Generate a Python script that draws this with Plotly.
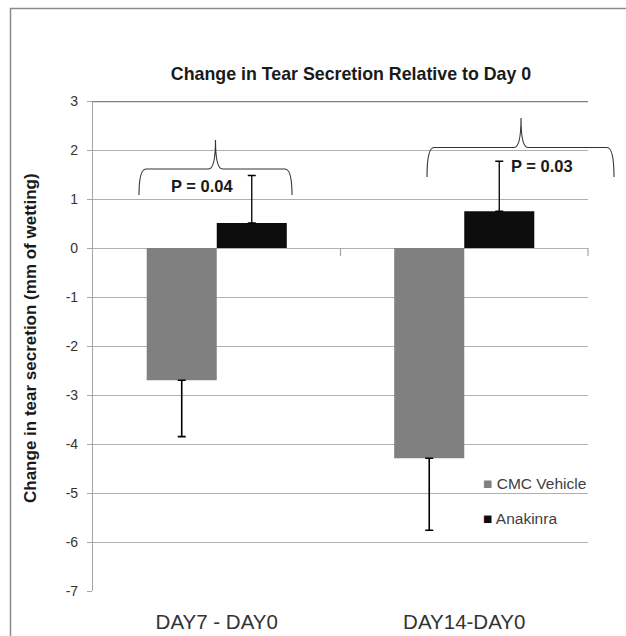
import plotly.graph_objects as go

# ---- data ----
categories = ["DAY7 - DAY0", "DAY14-DAY0"]
cmc_values = [-2.70, -4.29]
cmc_err = [1.15, 1.47]
anakinra_values = [0.51, 0.75]
anakinra_err = [0.97, 1.02]
p_labels = ["P = 0.04", "P = 0.03"]
y_ticks = [3, 2, 1, 0, -1, -2, -3, -4, -5, -6, -7]
y_ticktext = [str(v) for v in y_ticks]

W, H = 626, 636
L, R, T, B = 93, 38, 101, 45
PW, PH = W - L - R, H - T - B

def px_x(px):
    return (px - L) / PW

def px_y(py):
    return (H - B - py) / PH

FONT = "Liberation Sans, Arial, sans-serif"
xpos = list(range(len(categories)))

fig = go.Figure()
fig.add_trace(go.Bar(
    x=xpos, y=cmc_values, name="CMC Vehicle",
    marker=dict(color="#808080", line=dict(width=0)),
    error_y=dict(type="data", symmetric=False, array=[0] * len(cmc_err),
                 arrayminus=cmc_err, color="#000000", thickness=1.6, width=4),
))
fig.add_trace(go.Bar(
    x=xpos, y=anakinra_values, name="Anakinra",
    marker=dict(color="#0d0d0d", line=dict(width=0)),
    error_y=dict(type="data", symmetric=False, array=anakinra_err,
                 arrayminus=[0] * len(anakinra_err), color="#000000", thickness=1.3, width=4),
))

shapes = []
# outer frame
shapes.append(dict(type="rect", xref="paper", yref="paper",
                   x0=px_x(10.5), x1=px_x(640), y0=px_y(650), y1=px_y(8.5),
                   line=dict(color="#8c8c8c", width=1.5), layer="below"))
# darker top line at y=3
shapes.append(dict(type="line", xref="paper", yref="y", x0=0, x1=1, y0=3, y1=3,
                   line=dict(color="#7f7f7f", width=2.5)))
# category axis ticks at y=0
for xb in [0.5, 1.0]:
    shapes.append(dict(type="line", xref="paper", yref="y", ysizemode="pixel", yanchor=0,
                       x0=xb, x1=xb, y0=0, y1=-8, line=dict(color="#a6a6a6", width=1.2)))

# braces (pixel geometry: x0, x1, xc, y_end, y_flat, y_peak)
braces = [(139, 292, 215.5, 195, 169, 140), (427, 614, 521, 177, 147.5, 118)]
for (x0, x1, xc, yb, yh, yp) in braces:
    r = 7
    pts = lambda a, b: f"{px_x(a):.5f},{px_y(b):.5f}"
    path = (f"M{pts(x0, yb)} Q{pts(x0, yh)} {pts(x0 + r, yh)} "
            f"L{pts(xc - r, yh)} Q{pts(xc, yh)} {pts(xc, yp)} "
            f"Q{pts(xc, yh)} {pts(xc + r, yh)} "
            f"L{pts(x1 - r, yh)} Q{pts(x1, yh)} {pts(x1, yb)}")
    shapes.append(dict(type="path", xref="paper", yref="paper", path=path,
                       line=dict(color="#333333", width=1.1)))

annotations = []
# p-value labels
for txt, (xp, yp) in zip(p_labels, [(202, 186), (542, 166)]):
    annotations.append(dict(text=f"<b>{txt}</b>", xref="paper", yref="paper",
                            x=px_x(xp), y=px_y(yp), xanchor="center", yanchor="middle",
                            showarrow=False,
                            font=dict(family=FONT, size=16.5, color="#1a1a1a")))
# y axis title
annotations.append(dict(text="<b>Change in tear secretion (mm of wetting)</b>",
                        xref="paper", yref="paper", x=px_x(30), y=px_y(338),
                        xanchor="center", yanchor="middle",
                        textangle=-90, showarrow=False,
                        font=dict(family=FONT, size=17, color="#1a1a1a")))
# legend (manual)
for name, color, yp in [("CMC Vehicle", "#808080", 483), ("Anakinra", "#0d0d0d", 518)]:
    annotations.append(dict(text=f"<span style='color:{color}'>■</span> {name}",
                            xref="paper", yref="paper", x=px_x(481), y=px_y(yp),
                            xanchor="left", yanchor="middle", showarrow=False,
                            font=dict(family=FONT, size=15.5, color="#404040")))

fig.update_layout(
    width=W, height=H,
    margin=dict(l=L, r=R, t=T, b=B),
    paper_bgcolor="white", plot_bgcolor="white",
    barmode="group", bargap=0.434, bargroupgap=0,
    showlegend=False,
    title=dict(text="<b>Change in Tear Secretion Relative to Day 0</b>",
               xref="container", x=351 / W, xanchor="center",
               yref="container", y=1 - 74 / H, yanchor="middle",
               font=dict(family=FONT, size=17.8, color="#1a1a1a")),
    xaxis=dict(range=[-0.5, 1.5], tickvals=xpos, ticktext=categories,
               showgrid=False, zeroline=False, showline=False, ticks="",
               automargin=False, ticklabelstandoff=16,
               tickfont=dict(family=FONT, size=20.5, color="#333333")),
    yaxis=dict(range=[-7, 3], tickvals=y_ticks, ticktext=y_ticktext, showgrid=True,
               gridcolor="#b0b0b0", gridwidth=1.2, zeroline=False,
               showline=True, linecolor="#a6a6a6", linewidth=1.2, automargin=False,
               ticks="outside", ticklen=5, tickcolor="#a6a6a6", ticklabelstandoff=6,
               tickfont=dict(family=FONT, size=14, color="#333333")),
    shapes=shapes, annotations=annotations,
)

fig.write_html("out.html", config={"displayModeBar": False},
               post_script="document.body.style.margin='0';document.body.style.overflow='hidden';")
